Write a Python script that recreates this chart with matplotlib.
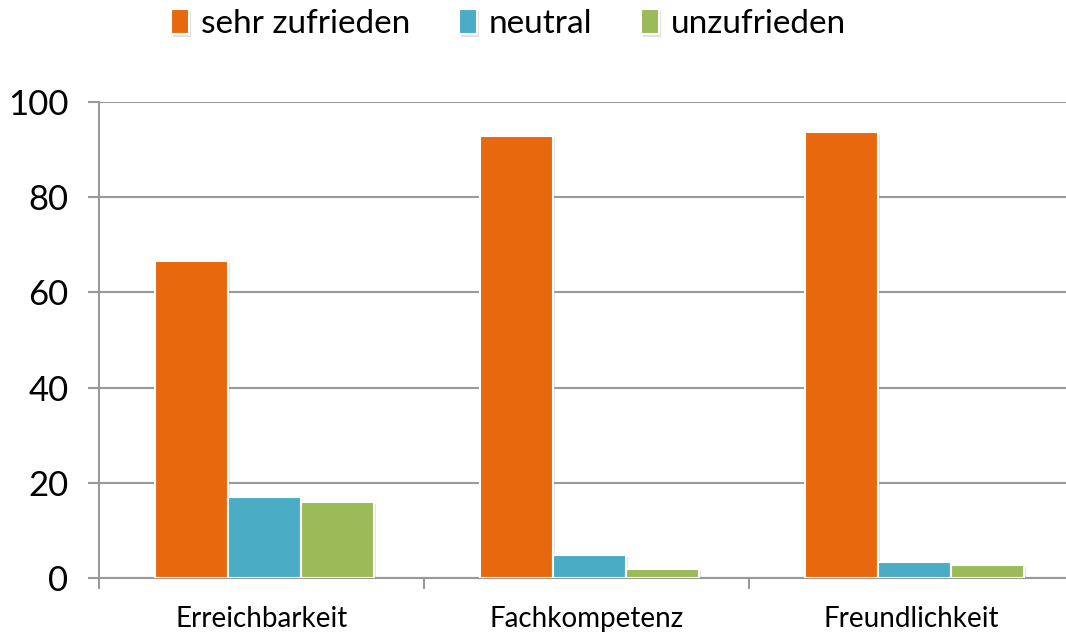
import numpy as np
import matplotlib
matplotlib.use("Agg")
import matplotlib.pyplot as plt
import matplotlib.patheffects as pe

plt.rcParams['font.family'] = ['Lato', 'DejaVu Sans']

categories = ['Erreichbarkeit', 'Fachkompetenz', 'Freundlichkeit']
series = ['sehr zufrieden', 'neutral', 'unzufrieden']
sehr_zufrieden = [66.6, 92.9, 93.6]
neutral = [17.1, 4.8, 3.4]
unzufrieden = [16.0, 1.9, 2.7]
colors = ['#E8690D', '#4BACC6', '#9BBB59']

fig = plt.figure(figsize=(10.66, 6.35), dpi=100)
# axes runs a little past the right edge, like the original
ax = fig.add_axes([0.0929, 0.0898, 0.9146, 0.7496])

x = np.arange(len(categories))
w = 0.2246
shadow = [pe.SimplePatchShadow(offset=(1.5, -1.5), shadow_rgbFace='#888888', alpha=0.25), pe.Normal()]
for i, (vals, lab) in enumerate(zip([sehr_zufrieden, neutral, unzufrieden], series)):
    bars = ax.bar(x + (i - 1) * w + 0.008, vals, w, color=colors[i], edgecolor='white',
                  linewidth=1.5, label=lab, zorder=3)
    for b in bars:
        b.set_path_effects(shadow)

ax.set_ylim(0, 100)
ax.set_xlim(-0.5, 2.5)
ax.set_yticks(range(0, 101, 20))
ax.yaxis.grid(True, color='#999999', linewidth=1.5, zorder=0)
ax.set_xticks(x)
ax.set_xticklabels(categories, fontsize=20)
ax.set_xticks([-0.5, 0.5, 1.5, 2.5], minor=True)
ax.tick_params(axis='x', which='major', length=0, pad=20)
ax.tick_params(axis='x', which='minor', length=8, color='#999999', width=1.5)
ax.tick_params(axis='y', labelsize=25, length=8, color='#999999', width=1.5, pad=14)

for s in ['top', 'right']:
    ax.spines[s].set_visible(False)
for s in ['left', 'bottom']:
    ax.spines[s].set_color('#999999')
    ax.spines[s].set_linewidth(1.5)

leg = fig.legend(loc='center', bbox_to_anchor=(0.477, 0.962), ncol=3, frameon=False,
                 fontsize=24, handlelength=0.54, handleheight=0.8, handletextpad=0.36,
                 columnspacing=1.45)

fig.savefig('out.png', dpi=100)
